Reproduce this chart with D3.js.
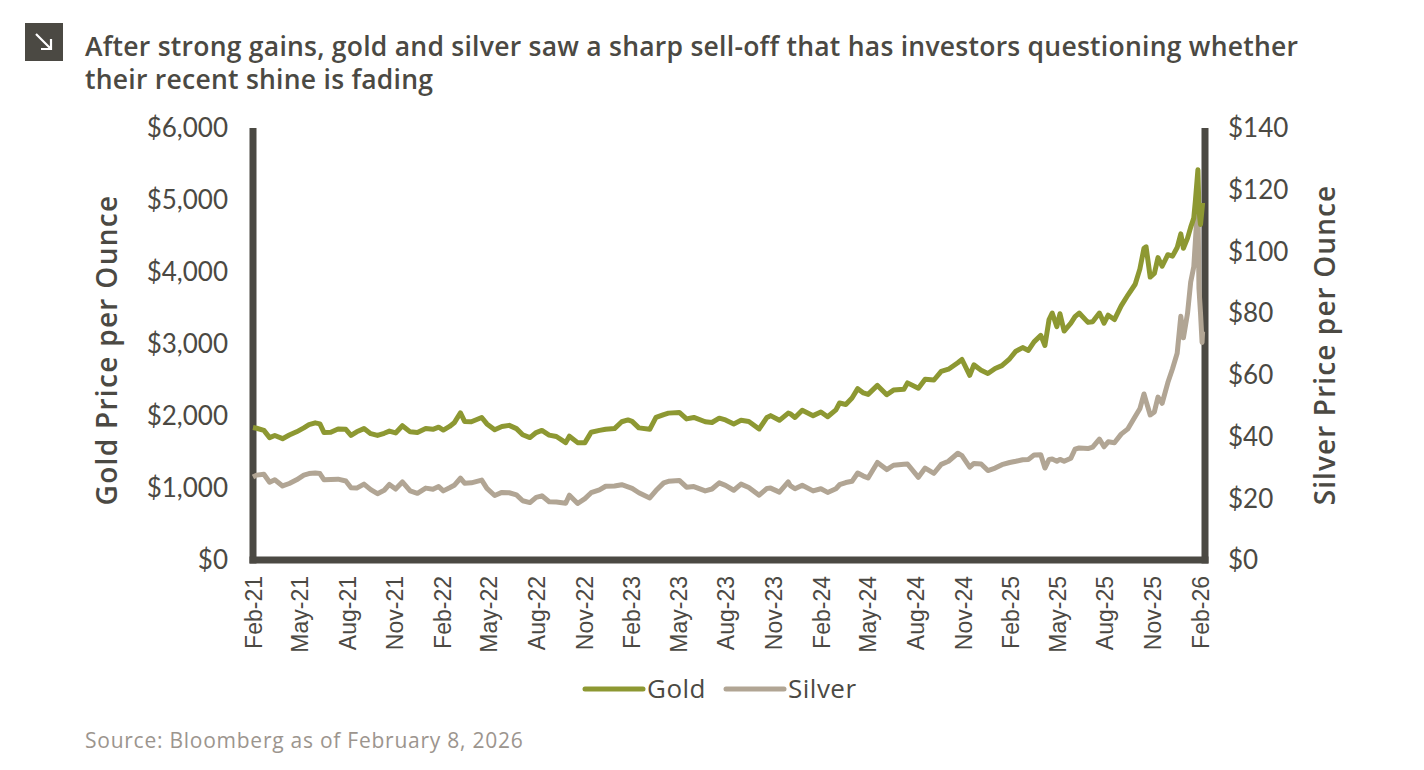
<!DOCTYPE html>
<html>
<head>
<meta charset="utf-8">
<script src="https://cdn.jsdelivr.net/npm/d3@7"></script>
<style>
  body { margin: 0; background: #fff; }
  svg { display: block; }
</style>
</head>
<body>
<svg id="chart" width="1424" height="770"></svg>
<script>
const dates = [
  "2021-02-01","2021-02-08","2021-02-22","2021-03-05","2021-03-15","2021-03-30","2021-04-12","2021-04-26",
  "2021-05-10","2021-05-20","2021-06-01","2021-06-10","2021-06-18","2021-07-01","2021-07-15","2021-07-30",
  "2021-08-09","2021-08-20","2021-09-03","2021-09-16","2021-09-29","2021-10-12","2021-10-22","2021-11-03",
  "2021-11-16","2021-12-01","2021-12-15","2021-12-31","2022-01-14","2022-01-25","2022-02-03","2022-02-15",
  "2022-02-24","2022-03-08","2022-03-16","2022-03-29","2022-04-18","2022-04-28","2022-05-13","2022-05-27",
  "2022-06-10","2022-06-24","2022-07-06","2022-07-20","2022-08-01","2022-08-12","2022-08-26","2022-09-09",
  "2022-09-27","2022-10-04","2022-10-20","2022-11-03","2022-11-15","2022-12-01","2022-12-13","2022-12-30",
  "2023-01-13","2023-01-25","2023-02-02","2023-02-15","2023-03-08","2023-03-20","2023-04-04","2023-04-13",
  "2023-05-04","2023-05-18","2023-06-01","2023-06-23","2023-07-06","2023-07-20","2023-08-01","2023-08-17",
  "2023-08-31","2023-09-15","2023-10-05","2023-10-20","2023-10-27","2023-11-13","2023-11-30","2023-12-04",
  "2023-12-13","2023-12-27","2024-01-17","2024-02-01","2024-02-14","2024-03-01","2024-03-08","2024-03-20",
  "2024-04-01","2024-04-12","2024-04-23","2024-05-02","2024-05-20","2024-06-07","2024-06-20","2024-07-10",
  "2024-07-17","2024-08-07","2024-08-20","2024-09-06","2024-09-20","2024-10-04","2024-10-22","2024-10-30",
  "2024-11-14","2024-11-22","2024-12-06","2024-12-19","2025-01-02","2025-01-15","2025-01-30","2025-02-11",
  "2025-02-24","2025-03-07","2025-03-18","2025-03-31","2025-04-08","2025-04-16","2025-04-22","2025-05-01",
  "2025-05-07","2025-05-15","2025-05-28","2025-06-05","2025-06-13","2025-06-30","2025-07-09","2025-07-22",
  "2025-07-31","2025-08-08","2025-08-20","2025-09-02","2025-09-15","2025-09-29","2025-10-08","2025-10-16",
  "2025-10-20","2025-10-28","2025-11-05","2025-11-12","2025-11-20","2025-12-01","2025-12-10","2025-12-19",
  "2025-12-26","2025-12-31","2026-01-08","2026-01-14","2026-01-20","2026-01-23","2026-01-28","2026-01-30",
  "2026-02-02","2026-02-05","2026-02-06"
];

const gold = [
  1840,1830,1800,1700,1730,1685,1735,1780,
  1835,1880,1905,1890,1770,1775,1820,1815,
  1730,1780,1825,1755,1730,1760,1790,1765,
  1865,1780,1770,1825,1815,1845,1805,1855,
  1905,2045,1925,1920,1980,1890,1810,1855,
  1870,1825,1740,1700,1770,1800,1735,1715,
  1630,1720,1630,1630,1775,1800,1815,1825,
  1920,1945,1925,1835,1815,1980,2020,2040,
  2050,1960,1980,1920,1910,1970,1945,1890,
  1940,1925,1820,1980,2005,1940,2040,2030,
  1980,2080,2005,2055,1990,2085,2180,2160,
  2250,2380,2320,2300,2425,2295,2360,2370,
  2460,2385,2510,2500,2620,2650,2740,2785,
  2565,2710,2635,2590,2660,2700,2795,2900,
  2950,2910,3030,3120,2980,3340,3430,3240,
  3420,3180,3290,3380,3430,3300,3310,3430,
  3290,3400,3340,3530,3680,3830,4040,4330,
  4350,3930,3980,4200,4080,4240,4220,4340,
  4530,4330,4470,4620,4750,4980,5420,4850,
  4660,4880,4960
];

const silver = [
  26.9,27.5,27.8,25.2,26.0,24.0,24.8,26.0,
  27.5,28.0,28.2,28.0,26.0,26.1,26.2,25.6,
  23.4,23.3,24.6,22.8,21.5,22.6,24.5,23.0,
  25.3,22.4,21.6,23.3,22.9,23.8,22.4,23.4,
  24.2,26.5,24.9,25.0,25.9,23.2,20.9,21.9,
  21.8,21.1,19.2,18.6,20.3,20.8,18.9,18.8,
  18.4,21.0,18.3,19.9,21.8,22.7,23.9,24.0,
  24.4,23.7,23.2,21.8,20.1,22.5,25.0,25.5,
  25.8,23.6,23.8,22.4,23.0,25.0,24.2,22.6,
  24.6,23.5,21.0,23.2,23.3,22.0,25.3,24.1,
  23.1,24.2,22.4,23.1,21.9,23.1,24.4,25.1,
  25.5,28.2,27.2,26.6,31.6,29.3,30.7,31.0,
  31.1,26.8,29.8,28.1,31.0,32.0,34.6,33.8,
  30.1,31.3,31.1,29.0,29.8,30.9,31.6,32.0,
  32.5,32.6,34.0,34.1,29.8,32.6,32.7,32.0,
  32.6,32.0,33.0,35.9,36.3,36.1,36.6,39.2,
  36.7,38.3,38.0,40.8,42.5,46.5,49.0,53.8,
  51.5,47.0,48.0,52.8,50.8,57.5,62.0,67.0,
  79.0,72.0,80.0,90.0,95.0,103.0,117.0,88.0,
  80.0,70.5,74.0
];

const goldTicks = [0, 1000, 2000, 3000, 4000, 5000, 6000];
const silverTicks = [0, 20, 40, 60, 80, 100, 120, 140];
const xTickDates = [
  "2021-02-01","2021-05-01","2021-08-01","2021-11-01","2022-02-01","2022-05-01","2022-08-01",
  "2022-11-01","2023-02-01","2023-05-01","2023-08-01","2023-11-01","2024-02-01","2024-05-01",
  "2024-08-01","2024-11-01","2025-02-01","2025-05-01","2025-08-01","2025-11-01","2026-02-01"
];
const seriesNames = ["Gold", "Silver"];

const dark = "#4b4943";
const goldColor = "#8d9832";
const silverColor = "#b1a594";
const textFont = "'Open Sans', Lato, sans-serif";
const tickFont = "Lato, 'Open Sans', sans-serif";

const parse = d3.timeParse("%Y-%m-%d");
const rows = dates.map((d, i) => ({ date: parse(d), gold: gold[i], silver: silver[i] }));

const plotLeft = 253;
const plotRight = 1205;
const plotTop = 128;
const plotBottom = 560;

const svg = d3.select("#chart");

const x = d3
  .scaleTime()
  .domain([parse("2021-02-01"), parse("2026-02-01")])
  .range([plotLeft, 1200]);

const yGold = d3.scaleLinear().domain([0, 6000]).range([plotBottom, plotTop]);
const ySilver = d3.scaleLinear().domain([0, 140]).range([plotBottom, plotTop]);

// title + icon
svg.append("rect").attr("x", 25).attr("y", 23).attr("width", 38).attr("height", 38).attr("fill", dark);
svg
  .append("path")
  .attr("d", "M36 34 L51 49 M51 39 L51 49 L41 49")
  .attr("stroke", "#fff")
  .attr("stroke-width", 2.2)
  .attr("fill", "none");

const title = svg
  .append("text")
  .attr("font-family", textFont)
  .attr("font-weight", 600)
  .attr("font-size", 26.5)
  .attr("letter-spacing", 0.25)
  .attr("fill", dark);
title.append("tspan").attr("x", 85).attr("y", 56)
  .text("After strong gains, gold and silver saw a sharp sell-off that has investors questioning whether");
title.append("tspan").attr("x", 85).attr("y", 89).text("their recent shine is fading");

// axis frame (lines are drawn over it afterwards)
svg.append("line").attr("x1", plotLeft).attr("x2", plotLeft).attr("y1", plotTop).attr("y2", plotBottom + 3.5)
  .attr("stroke", dark).attr("stroke-width", 7);
svg.append("line").attr("x1", plotRight).attr("x2", plotRight).attr("y1", plotTop).attr("y2", plotBottom + 3.5)
  .attr("stroke", dark).attr("stroke-width", 7);
svg.append("line").attr("x1", plotLeft - 3.5).attr("x2", plotRight + 3.5).attr("y1", plotBottom).attr("y2", plotBottom)
  .attr("stroke", dark).attr("stroke-width", 7);

// lines
const goldLine = d3.line().x((d) => x(d.date)).y((d) => yGold(d.gold));
const silverLine = d3.line().x((d) => x(d.date)).y((d) => ySilver(d.silver));

svg
  .append("path")
  .datum(rows)
  .attr("d", silverLine)
  .attr("fill", "none")
  .attr("stroke", silverColor)
  .attr("stroke-width", 5)
  .attr("stroke-linejoin", "round");

svg
  .append("path")
  .datum(rows)
  .attr("d", goldLine)
  .attr("fill", "none")
  .attr("stroke", goldColor)
  .attr("stroke-width", 5)
  .attr("stroke-linejoin", "round");

// y axes
const yLeft = svg
  .append("g")
  .attr("transform", `translate(${plotLeft},0)`)
  .call(d3.axisLeft(yGold).tickValues(goldTicks).tickSize(0).tickPadding(25).tickFormat(d3.format("$,")));
const yRight = svg
  .append("g")
  .attr("transform", `translate(${plotRight},0)`)
  .call(d3.axisRight(ySilver).tickValues(silverTicks).tickSize(0).tickPadding(23).tickFormat(d3.format("$")));

[yLeft, yRight].forEach((g) => {
  g.select(".domain").remove();
  g.selectAll("text")
    .attr("font-family", tickFont)
    .attr("font-size", 26)
    .attr("fill", dark)
    .attr("dy", "0.34em");
});

// x axis
const xAxis = svg
  .append("g")
  .attr("transform", `translate(0,${plotBottom})`)
  .call(
    d3.axisBottom(x)
      .tickValues(xTickDates.map(parse))
      .tickSize(0)
      .tickFormat(d3.timeFormat("%b-%y"))
  );
xAxis.select(".domain").remove();
xAxis
  .selectAll("text")
  .attr("font-family", "'Liberation Sans', Arial, sans-serif")
  .attr("font-size", 23)
  .attr("fill", dark)
  .attr("text-anchor", "end")
  .attr("transform", "rotate(-90)")
  .attr("x", -16)
  .attr("y", 0)
  .attr("dy", "0.36em");

// axis titles
svg
  .append("text")
  .attr("transform", "translate(117,350) rotate(-90)")
  .attr("text-anchor", "middle")
  .attr("font-family", textFont)
  .attr("font-weight", 600)
  .attr("font-size", 28)
  .attr("letter-spacing", 1.3)
  .attr("fill", dark)
  .text("Gold Price per Ounce");

svg
  .append("text")
  .attr("transform", "translate(1335,345) rotate(-90)")
  .attr("text-anchor", "middle")
  .attr("font-family", textFont)
  .attr("font-weight", 600)
  .attr("font-size", 28)
  .attr("letter-spacing", 1.1)
  .attr("fill", dark)
  .text("Silver Price per Ounce");

// legend
const legendColor = d3.scaleOrdinal().domain(seriesNames).range([goldColor, silverColor]);
const legendX = [585, 726];
const legend = svg
  .append("g")
  .selectAll("g")
  .data(seriesNames)
  .enter()
  .append("g")
  .attr("transform", (_, i) => `translate(${legendX[i]},689)`);
legend
  .append("line")
  .attr("x1", 0)
  .attr("x2", 58)
  .attr("stroke", (d) => legendColor(d))
  .attr("stroke-width", 5)
  .attr("stroke-linecap", "round");
legend
  .append("text")
  .attr("x", 62)
  .attr("dy", "0.36em")
  .attr("font-family", textFont)
  .attr("font-size", 26)
  .attr("letter-spacing", 0.5)
  .attr("fill", dark)
  .text((d) => d);

// source
svg
  .append("text")
  .attr("x", 85)
  .attr("y", 748)
  .attr("font-family", textFont)
  .attr("font-size", 21)
  .attr("letter-spacing", 0.75)
  .attr("fill", "#9c958e")
  .text("Source: Bloomberg as of February 8, 2026");
</script>
</body>
</html>
